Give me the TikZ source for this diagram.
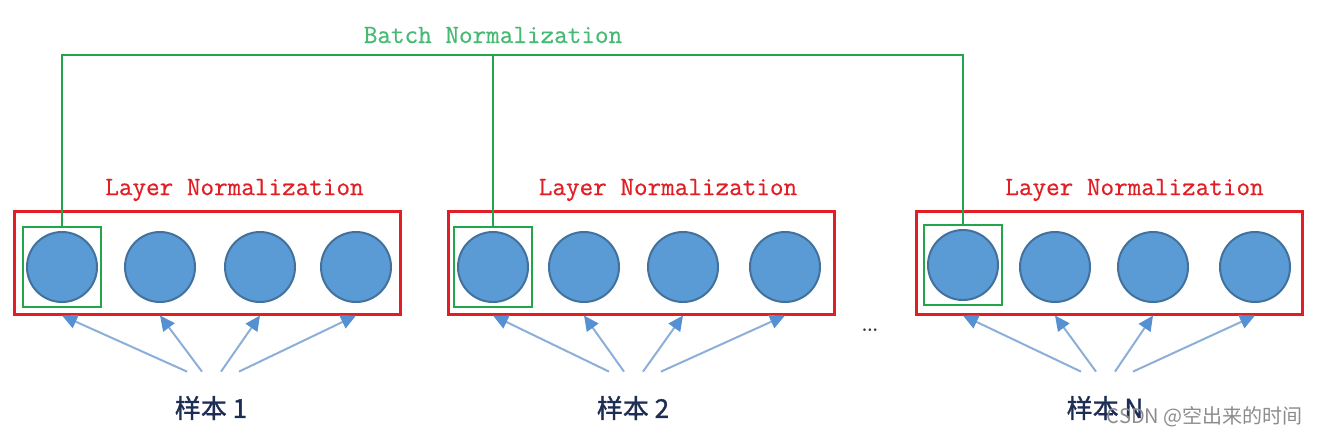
\documentclass[tikz,border=0pt]{standalone}
\usepackage{fontspec}
\newfontfamily\cjk{Noto Sans CJK SC}
\newfontfamily\cjkheavy{Noto Sans CJK SC}[FakeBold=1.2]
\newfontfamily\lnmono{Latin Modern Mono}[FakeBold=0.6]
\usetikzlibrary{arrows.meta, positioning}
\definecolor{colorLayer}{RGB}{225,30,35}
\definecolor{colorBatch}{RGB}{35,165,75}
\definecolor{colorBatchText}{RGB}{70,185,115}
\definecolor{colorNeuron}{RGB}{91,155,213}
\definecolor{colorNeuronEdge}{RGB}{65,113,156}
\definecolor{colorFeed}{RGB}{140,175,218}
\definecolor{colorFeedTip}{RGB}{85,145,210}
\definecolor{colorSample}{RGB}{30,45,85}
\tikzset{
  neuron/.style={circle, minimum size=35pt, inner sep=0pt, fill=colorNeuron, draw=colorNeuronEdge, line width=1pt},
  lnbox/.style={rectangle, draw=colorLayer, line width=1.5pt, minimum width=193pt, minimum height=51.5pt, inner sep=0pt},
  bnbox/.style={rectangle, draw=colorBatch, line width=1.2pt, minimum width=39pt, minimum height=40pt, inner sep=0pt},
  lntext/.style={text=colorLayer, font=\fontsize{13.2pt}{15pt}\selectfont\lnmono, inner sep=0pt, anchor=base},
  bntext/.style={text=colorBatchText, font=\fontsize{13.2pt}{15pt}\selectfont\lnmono, inner sep=0pt, anchor=base},
  bnline/.style={draw=colorBatch, line width=1.4pt},
  sample/.style={text=colorSample, font=\fontsize{13pt}{15pt}\selectfont\cjkheavy, minimum height=36pt, inner sep=0pt},
  feed/.style={draw=colorFeed, line width=1pt, -{Triangle[width=7pt, length=7.5pt, color=colorFeedTip]}},
  wmtext/.style={text=black!45, font=\fontsize{10pt}{12pt}\selectfont\cjk, inner sep=0pt, anchor=east}
}
\begin{document}
\begin{tikzpicture}[x=0.5pt, y=-0.5pt]
\useasboundingbox (0,0) rectangle (1318,435);
% layer boxes
\node[lnbox] (ln1) at (207.5,262.5) {};
\node[lnbox] (ln2) at (641,262.5) {};
\node[lnbox] (ln3) at (1109.5,262.5) {};
\node[lntext, above=4pt of ln1.north, xshift=13.5pt] (lt1) {Layer Normalization};
\node[lntext, above=4pt of ln2.north, xshift=13.5pt] (lt2) {Layer Normalization};
\node[lntext, above=4pt of ln3.north, xshift=12.5pt] (lt3) {Layer Normalization};
% neurons
\node[neuron] (n11) at (62,267) {};
\node[neuron] (n12) at (160,267) {};
\node[neuron] (n13) at (260,267) {};
\node[neuron] (n14) at (356,267) {};
\node[neuron] (n21) at (493,267) {};
\node[neuron] (n22) at (584,267) {};
\node[neuron] (n23) at (683,267) {};
\node[neuron] (n24) at (785,267) {};
\node[neuron] (n31) at (963,265) {};
\node[neuron] (n32) at (1055,267) {};
\node[neuron] (n33) at (1153,267) {};
\node[neuron] (n34) at (1255,267) {};
% batch boxes
\node[bnbox] (bn1) at (n11) {};
\node[bnbox] (bn2) at (n21) {};
\node[bnbox] (bn3) at (n31) {};
\coordinate (bnl) at (493,55);
\node[above=6pt of bnl, bntext] (bt) {Batch Normalization};
\draw[bnline] (bn1.north) |- (bn3.north |- bnl) -- (bn3.north);
\draw[bnline] (bn2.north) -- (bn2.north |- bnl);
% samples
\node[sample] (s1) at (211,408) {样本 1};
\node[sample] (s2) at (633,408) {样本 2};
\node[sample] (s3) at (1105,408) {样本 N};
\node[text=black!80, font=\fontsize{16pt}{18pt}\selectfont] (gap) at (870,330) {\ldots};
\draw[feed] ([xshift=-12pt]s1.north) -- (n11 |- ln1.south);
\draw[feed] ([xshift=-4.5pt]s1.north) -- (n12 |- ln1.south);
\draw[feed] ([xshift=5pt]s1.north) -- (n13 |- ln1.south);
\draw[feed] ([xshift=14pt]s1.north) -- (n14 |- ln1.south);
\draw[feed] ([xshift=-12pt]s2.north) -- (n21 |- ln2.south);
\draw[feed] ([xshift=-4.5pt]s2.north) -- (n22 |- ln2.south);
\draw[feed] ([xshift=5pt]s2.north) -- (n23 |- ln2.south);
\draw[feed] ([xshift=14pt]s2.north) -- (n24 |- ln2.south);
\draw[feed] ([xshift=-12pt]s3.north) -- (n31 |- ln3.south);
\draw[feed] ([xshift=-4.5pt]s3.north) -- (n32 |- ln3.south);
\draw[feed] ([xshift=5pt]s3.north) -- (n33 |- ln3.south);
\draw[feed] ([xshift=14pt]s3.north) -- (n34 |- ln3.south);
\node[wmtext] (wm) at (1303,417) {CSDN @空出来的时间};
\end{tikzpicture}
\end{document}
